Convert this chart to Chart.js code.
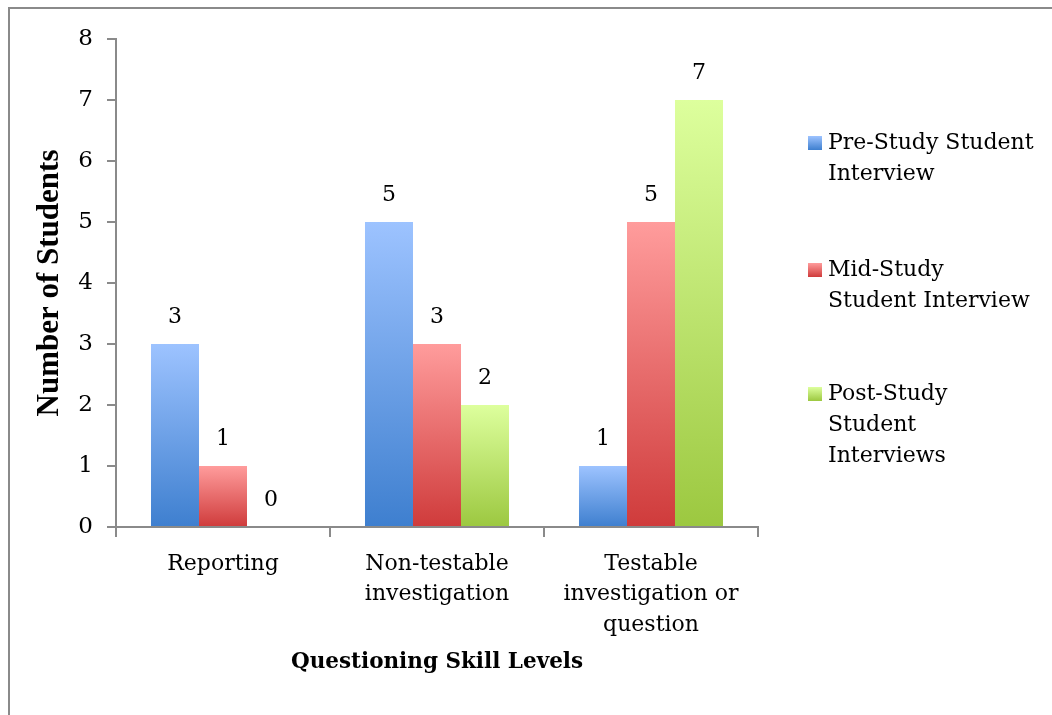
<!DOCTYPE html>
<html>
<head>
<meta charset="utf-8">
<script src="https://cdn.jsdelivr.net/npm/chart.js@4/dist/chart.umd.min.js"></script>
<style>
  html, body { margin: 0; padding: 0; background: #fff; }
  #wrap { width: 1052px; height: 715px; position: relative; }
</style>
</head>
<body>
<div id="wrap"><canvas id="chart" width="1052" height="715"></canvas></div>
<script>
var categories=[["Reporting"], ["Non-testable", "investigation"], ["Testable", "investigation or", "question"]];
var preStudy=[3, 5, 1];
var midStudy=[1, 3, 5];
var postStudy=[0, 2, 7];
var seriesNames=[["Pre-Study Student", "Interview"], ["Mid-Study", "Student Interview"], ["Post-Study", "Student", "Interviews"]];
var yTicks=[0, 1, 2, 3, 4, 5, 6, 7, 8];

var serifFont="'DejaVu Serif', serif";
var colors=[["#9dc3ff", "#3e7fcf"], ["#ff9c9c", "#cf3b3b"], ["#ddff9d", "#9cc840"]];

function barFill(idx){
  return function(ctx){
    var chart=ctx.chart;
    if(!chart.chartArea || ctx.type!="data"){
      return colors[idx][1];
    }
    var y=chart.scales.y;
    var top=y.getPixelForValue(ctx.raw);
    var bottom=y.getPixelForValue(0);
    if(bottom-top<1){
      top=bottom-1;
    }
    var g=chart.ctx.createLinearGradient(0, top, 0, bottom);
    g.addColorStop(0, colors[idx][0]);
    g.addColorStop(1, colors[idx][1]);
    return g;
  };
}

// border round the picture
var framePlugin={
  id: "frame",
  beforeDraw: function(chart){
    var c=chart.ctx;
    c.save();
    c.strokeStyle="#8a8a8a";
    c.lineWidth=2;
    c.beginPath();
    c.moveTo(9, 715);
    c.lineTo(9, 8);
    c.lineTo(1052, 8);
    c.stroke();
    c.restore();
  }
};

// value labels above bars
var valuePlugin={
  id: "values",
  afterDatasetsDraw: function(chart){
    var c=chart.ctx;
    c.save();
    c.font="22px "+serifFont;
    c.fillStyle="#000";
    c.textAlign="center";
    c.textBaseline="middle";
    chart.data.datasets.forEach(function(ds, i){
      chart.getDatasetMeta(i).data.forEach(function(bar, j){
        c.fillText(String(ds.data[j]), bar.x, bar.y-27);
      });
    });
    c.restore();
  }
};

// legend on the right with wrapped names
var legendPlugin={
  id: "sideLegend",
  afterDraw: function(chart){
    var c=chart.ctx;
    var tops=[143, 270, 394];
    c.save();
    c.font="22px "+serifFont;
    c.textBaseline="middle";
    c.textAlign="left";
    seriesNames.forEach(function(lines, i){
      var g=c.createLinearGradient(0, tops[i]-7, 0, tops[i]+7);
      g.addColorStop(0, colors[i][0]);
      g.addColorStop(1, colors[i][1]);
      c.fillStyle=g;
      c.fillRect(808, tops[i]-7, 14, 14);
      c.fillStyle="#000";
      lines.forEach(function(t, k){
        c.fillText(t, 828, tops[i]+k*31);
      });
    });
    c.restore();
  }
};

var chart=new Chart(document.getElementById("chart").getContext("2d"), {
  type: "bar",
  data: {
    labels: categories,
    datasets: [
      {label: seriesNames[0].join(" "), data: preStudy, backgroundColor: barFill(0)},
      {label: seriesNames[1].join(" "), data: midStudy, backgroundColor: barFill(1)},
      {label: seriesNames[2].join(" "), data: postStudy, backgroundColor: barFill(2)}
    ]
  },
  options: {
    responsive: false,
    animation: false,
    layout: {padding: {left: 27, right: 294, top: 39, bottom: 36}},
    plugins: {
      legend: {display: false},
      tooltip: {enabled: false}
    },
    datasets: {
      bar: {barPercentage: 1, categoryPercentage: 0.673, borderWidth: 0}
    },
    scales: {
      x: {
        grid: {display: true, drawOnChartArea: false, drawTicks: true, tickLength: 10, color: "#8a8a8a", lineWidth: 2, offset: true},
        border: {color: "#8a8a8a", width: 2},
        ticks: {color: "#000", font: {family: serifFont, size: 22, lineHeight: 1.38}, padding: 12, maxRotation: 0, autoSkip: false},
        title: {display: true, text: "Questioning Skill Levels", color: "#000", font: {family: serifFont, size: 21.5, weight: "bold"}, padding: {top: 12}},
        afterFit: function(s){ s.height=715-527-36; }
      },
      y: {
        min: 0,
        max: 8,
        afterBuildTicks: function(s){ s.ticks=yTicks.map(function(v){ return {value: v}; }); },
        grid: {display: true, drawOnChartArea: false, drawTicks: true, tickLength: 9, color: "#8a8a8a", lineWidth: 2},
        border: {color: "#8a8a8a", width: 2},
        ticks: {color: "#000", font: {family: serifFont, size: 23}, padding: 14},
        title: {display: true, text: "Number of Students", color: "#000", font: {family: "'Liberation Serif', serif", size: 31, weight: "bold"}, padding: {bottom: 4}},
        afterFit: function(s){ s.width=116-27; }
      }
    }
  },
  plugins: [framePlugin, valuePlugin, legendPlugin]
});
</script>
</body>
</html>
